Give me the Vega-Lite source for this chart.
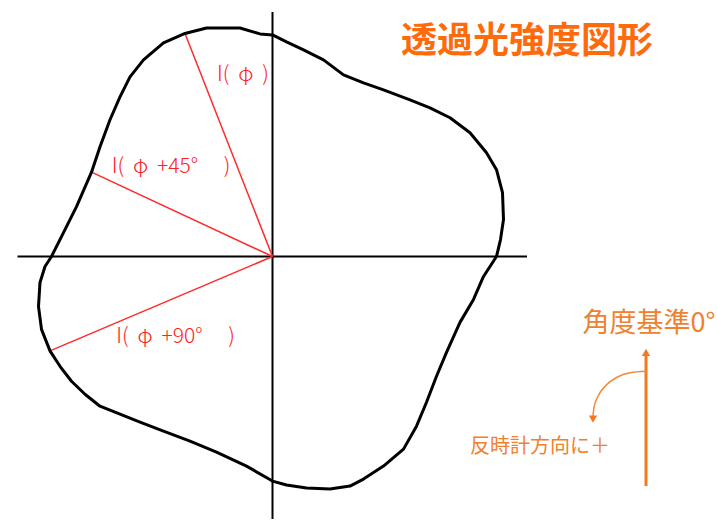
{
  "$schema": "https://vega.github.io/schema/vega-lite/v6.json",
  "width": 717,
  "height": 520,
  "padding": 0,
  "autosize": {"type": "fit", "contains": "padding"},
  "background": "white",
  "config": {"view": {"stroke": null}},
  "encoding": {
    "x": {"field": "x", "type": "quantitative", "scale": {"domain": [-272.5, 444.5], "nice": false, "zero": false}, "axis": null},
    "y": {"field": "y", "type": "quantitative", "scale": {"domain": [-263, 257], "nice": false, "zero": false}, "axis": null}
  },
  "layer": [
    {
      "data": {"values": [
        {"x": -255, "y": 0, "x2": 254.5, "y2": 0},
        {"x": 0, "y": 245, "x2": 0, "y2": -263}
      ]},
      "mark": {"type": "rule", "color": "#000000", "strokeWidth": 2},
      "encoding": {"x2": {"field": "x2"}, "y2": {"field": "y2"}}
    },
    {
      "data": {"values": [
        {"x": 0, "y": 0, "x2": -87.5, "y2": 223.5},
        {"x": 0, "y": 0, "x2": -181, "y2": 84.5},
        {"x": 0, "y": 0, "x2": -222.5, "y2": -94.5}
      ]},
      "mark": {"type": "rule", "color": "#ff2a2a", "strokeWidth": 1.5},
      "encoding": {"x2": {"field": "x2"}, "y2": {"field": "y2"}}
    },
    {
      "data": {"values": [
        {"i": 1, "x": 0, "y": 222},
        {"i": 2, "x": 14, "y": 215},
        {"i": 3, "x": 31, "y": 207},
        {"i": 4, "x": 51, "y": 197},
        {"i": 5, "x": 71, "y": 182},
        {"i": 6, "x": 91, "y": 174},
        {"i": 7, "x": 111, "y": 167},
        {"i": 8, "x": 137.5, "y": 157},
        {"i": 9, "x": 157.5, "y": 149},
        {"i": 10, "x": 177.5, "y": 139},
        {"i": 11, "x": 197.5, "y": 124},
        {"i": 12, "x": 214, "y": 104},
        {"i": 13, "x": 224, "y": 87},
        {"i": 14, "x": 230, "y": 64},
        {"i": 15, "x": 231, "y": 37},
        {"i": 16, "x": 228, "y": 17},
        {"i": 17, "x": 224, "y": 0},
        {"i": 18, "x": 211, "y": -20},
        {"i": 19, "x": 201, "y": -43},
        {"i": 20, "x": 187.5, "y": -66},
        {"i": 21, "x": 174, "y": -96},
        {"i": 22, "x": 164, "y": -120},
        {"i": 23, "x": 154, "y": -146},
        {"i": 24, "x": 144, "y": -170},
        {"i": 25, "x": 131, "y": -193},
        {"i": 26, "x": 111, "y": -210},
        {"i": 27, "x": 91, "y": -223},
        {"i": 28, "x": 77.5, "y": -230},
        {"i": 29, "x": 57.5, "y": -233},
        {"i": 30, "x": 34, "y": -232},
        {"i": 31, "x": 14, "y": -229},
        {"i": 32, "x": 0, "y": -225},
        {"i": 33, "x": -26, "y": -210},
        {"i": 34, "x": -56, "y": -196},
        {"i": 35, "x": -82.5, "y": -185},
        {"i": 36, "x": -109, "y": -175},
        {"i": 37, "x": -132.5, "y": -166},
        {"i": 38, "x": -152.5, "y": -158},
        {"i": 39, "x": -172.5, "y": -150},
        {"i": 40, "x": -187.5, "y": -138},
        {"i": 41, "x": -201, "y": -125},
        {"i": 42, "x": -212.5, "y": -110},
        {"i": 43, "x": -222.5, "y": -94.5},
        {"i": 44, "x": -231, "y": -73},
        {"i": 45, "x": -234, "y": -50},
        {"i": 46, "x": -232.5, "y": -26},
        {"i": 47, "x": -227.5, "y": -10},
        {"i": 48, "x": -221, "y": 0},
        {"i": 49, "x": -209, "y": 24},
        {"i": 50, "x": -196, "y": 50},
        {"i": 51, "x": -181, "y": 84.5},
        {"i": 52, "x": -172.5, "y": 110},
        {"i": 53, "x": -162.5, "y": 137},
        {"i": 54, "x": -152.5, "y": 160},
        {"i": 55, "x": -142.5, "y": 180},
        {"i": 56, "x": -129, "y": 197},
        {"i": 57, "x": -109, "y": 214},
        {"i": 58, "x": -87.5, "y": 223.5},
        {"i": 59, "x": -66, "y": 229},
        {"i": 60, "x": -32.5, "y": 229},
        {"i": 61, "x": -12.5, "y": 223},
        {"i": 62, "x": 0, "y": 222}
      ]},
      "mark": {"type": "line", "color": "#000000", "strokeWidth": 3, "strokeJoin": "round", "interpolate": "linear"},
      "encoding": {"order": {"field": "i", "type": "quantitative"}}
    },
    {
      "data": {"values": [
        {"x": -29.5, "y": 182, "label": "I(\u00a0\u2009φ\u00a0\u2009)"},
        {"x": -101.5, "y": 90, "label": "I(\u00a0\u2009φ\u00a0\u2009+45°\u2003\u00a0)"},
        {"x": -97, "y": -81, "label": "I(\u00a0\u2009φ\u00a0\u2009+90°\u2003\u00a0)"}
      ]},
      "mark": {"type": "text", "color": "#ff2020", "font": "Noto Sans CJK JP", "fontWeight": 300, "fontSize": 21, "align": "center", "baseline": "middle"},
      "encoding": {"text": {"field": "label"}}
    },
    {
      "data": {"values": [
        {"x": 254.5, "y": 214.5, "label": "透過光強度図形"}
      ]},
      "mark": {"type": "text", "color": "#ff6a0a", "font": "Noto Sans CJK JP", "fontSize": 36, "fontWeight": "bold", "align": "center", "baseline": "middle"},
      "encoding": {"text": {"field": "label"}}
    },
    {
      "data": {"values": [
        {"x": 376.5, "y": -68, "label": "角度基準0°", "s": 27},
        {"x": 267.5, "y": -191, "label": "反時計方向に＋", "s": 20}
      ]},
      "mark": {"type": "text", "color": "#f0812e", "font": "Noto Sans CJK JP", "align": "center", "baseline": "middle"},
      "encoding": {"text": {"field": "label"}, "size": {"field": "s", "type": "quantitative", "scale": null, "legend": null}}
    },
    {
      "data": {"values": [
        {"x": 373.5, "y": -230, "x2": 373.5, "y2": -97}
      ]},
      "mark": {"type": "rule", "color": "#f47a1f", "strokeWidth": 3},
      "encoding": {"x2": {"field": "x2"}, "y2": {"field": "y2"}}
    },
    {
      "data": {"values": [
        {"i": 1, "x": 373.5, "y": -115},
        {"i": 2, "x": 357.5, "y": -116.5},
        {"i": 3, "x": 344.5, "y": -121},
        {"i": 4, "x": 333.5, "y": -129},
        {"i": 5, "x": 325.5, "y": -140},
        {"i": 6, "x": 321.5, "y": -151},
        {"i": 7, "x": 320.5, "y": -160}
      ]},
      "mark": {"type": "line", "color": "#f4893a", "strokeWidth": 1.5, "interpolate": "monotone"},
      "encoding": {"order": {"field": "i", "type": "quantitative"}}
    },
    {
      "data": {"values": [
        {"x": 373.5, "y": -96, "shape": "triangle-up"},
        {"x": 320.5, "y": -163, "shape": "triangle-down"}
      ]},
      "mark": {"type": "point", "filled": true, "color": "#f47a1f", "size": 70, "opacity": 1},
      "encoding": {"shape": {"field": "shape", "type": "nominal", "scale": null, "legend": null}}
    }
  ]
}
